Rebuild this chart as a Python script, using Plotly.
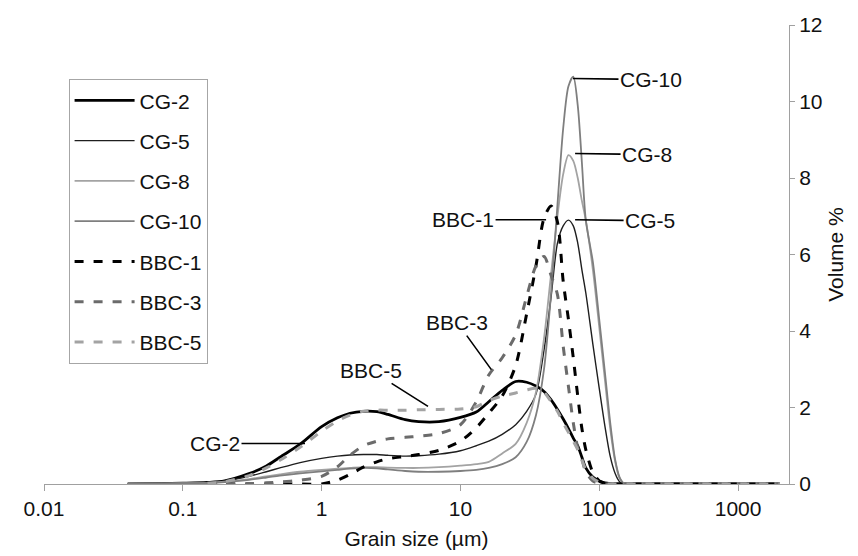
import math
import plotly.graph_objects as go

# Grain size grid (µm)
size_um = [0.04, 0.07, 0.1, 0.15, 0.2, 0.3, 0.4, 0.5, 0.7, 1.0, 1.3, 1.6, 2.0, 2.5, 3.0,
           4.0, 5.0, 7.0, 10, 13, 16, 20, 25, 30, 35, 40, 45, 50, 55, 60, 65, 70, 75,
           80, 90, 100, 110, 120, 130, 140, 150, 200, 500, 1000, 2000]

cg2 = [0.0, 0.01, 0.02, 0.04, 0.08, 0.27, 0.47, 0.70, 1.04, 1.50, 1.73, 1.85, 1.90, 1.89, 1.82,
       1.68, 1.63, 1.63, 1.74, 1.88, 2.15, 2.45, 2.68, 2.66, 2.56, 2.42, 2.2, 1.95, 1.7, 1.45,
       1.2, 1.0, 0.7, 0.42, 0.18, 0.08, 0.03, 0.01, 0, 0, 0, 0, 0, 0, 0]
cg5 = [0.0, 0.01, 0.02, 0.04, 0.08, 0.2, 0.32, 0.42, 0.56, 0.67, 0.73, 0.76, 0.77, 0.77, 0.75,
       0.73, 0.74, 0.78, 0.87, 1.0, 1.12, 1.3, 1.55, 1.9, 2.35, 3.5, 4.9, 6.3, 6.75, 6.9,
       6.75, 6.3, 5.6, 5.0, 3.65, 2.5, 1.5, 0.72, 0.28, 0.06, 0, 0, 0, 0, 0]
cg8 = [0.0, 0.01, 0.02, 0.03, 0.06, 0.13, 0.2, 0.25, 0.32, 0.37, 0.4, 0.42, 0.44, 0.44, 0.43,
       0.42, 0.42, 0.44, 0.48, 0.52, 0.58, 0.8, 1.05, 1.6, 2.4, 3.8, 5.5, 7.0, 8.1, 8.6,
       8.45, 8.0, 7.4, 6.9, 5.6, 4.1, 2.7, 1.45, 0.6, 0.15, 0.02, 0, 0, 0, 0]
cg10 = [0.0, 0.01, 0.02, 0.03, 0.05, 0.11, 0.17, 0.22, 0.28, 0.33, 0.37, 0.4, 0.42, 0.41, 0.38,
        0.34, 0.32, 0.32, 0.34, 0.37, 0.42, 0.52, 0.7, 1.1, 1.8, 3.0, 5.0, 7.3, 9.3, 10.4,
        10.65, 9.9, 8.4, 6.9, 5.8, 4.3, 2.9, 1.6, 0.65, 0.18, 0.02, 0, 0, 0, 0]
bbc1 = [None, None, None, 0.0, 0.0, 0.0, 0.0, 0.0, 0.0, 0.0, 0.1, 0.25, 0.44, 0.58, 0.66,
        0.72, 0.77, 0.88, 1.12, 1.47, 1.85, 2.3, 3.1, 4.45, 5.7, 6.95, 7.27, 6.85, 5.3, 4.3,
        3.3, 2.3, 1.45, 0.9, 0.3, 0.08, 0.02, 0, 0, 0, 0, 0, 0, 0, 0]
bbc3 = [None, None, None, 0.0, 0.0, 0.01, 0.03, 0.05, 0.1, 0.2, 0.45, 0.75, 1.0, 1.12, 1.18,
        1.22, 1.25, 1.32, 1.55, 2.15, 2.85, 3.3, 3.9, 4.9, 5.7, 5.95, 5.45, 4.95, 3.6, 2.55,
        1.6, 0.95, 0.65, 0.32, 0.08, 0.02, 0, 0, 0, 0, 0, 0, 0, 0, 0]
bbc5 = [None, None, None, 0.02, 0.06, 0.22, 0.42, 0.62, 0.96, 1.38, 1.65, 1.8, 1.9, 1.93, 1.93,
        1.93, 1.94, 1.95, 1.96, 2.02, 2.18, 2.3, 2.38, 2.46, 2.5, 2.4, 2.15, 1.9, 1.6, 1.35,
        1.12, 0.9, 0.62, 0.38, 0.15, 0.05, 0.01, 0, 0, 0, 0, 0, 0, 0, 0]

series_names = ["CG-2", "CG-5", "CG-8", "CG-10", "BBC-1", "BBC-3", "BBC-5"]
series_values = [cg2, cg5, cg8, cg10, bbc1, bbc3, bbc5]
series_colors = ["#000000", "#1e1e1e", "#a3a3a3", "#7f7f7f", "#000000", "#6b6b6b", "#a3a3a3"]
series_widths = [2.8, 1.4, 1.8, 1.8, 3.0, 3.0, 3.0]
series_dash = ["solid", "solid", "solid", "solid", "9px,10px", "9px,10px", "9px,10px"]

x_ticks = [0.01, 0.1, 1, 10, 100, 1000]
x_tick_labels = ["0.01", "0.1", "1", "10", "100", "1000"]
y_ticks = [0, 2, 4, 6, 8, 10, 12]

# label, x (µm), y (%), text offset ax, ay (px)
callouts = [("CG-10", 64.7, 10.6, 78, 1),
            ("CG-8", 67.0, 8.64, 72, 1),
            ("CG-5", 67.0, 6.91, 75, 1),
            ("BBC-1", 41.4, 6.91, -83, 0),
            ("BBC-3", 16.7, 2.99, -34, -47),
            ("BBC-5", 5.84, 2.03, -57, -36),
            ("CG-2", 0.759, 1.06, -90, 0)]

FONT = "Liberation Sans, Arial, sans-serif"

fig = go.Figure()
for name, vals, col, w, d in zip(series_names, series_values, series_colors, series_widths, series_dash):
    fig.add_trace(go.Scatter(
        x=size_um, y=vals, name=name, mode="lines", legendgroup=name,
        line=dict(color=col, width=w, dash=d, shape="spline", smoothing=0.8),
        connectgaps=False,
    ))

for label, xu, yv, ax, ay in callouts:
    fig.add_annotation(x=math.log10(xu), y=yv, xref="x", yref="y", text=label,
                       showarrow=True, arrowhead=0, arrowwidth=1.6, arrowcolor="#000000",
                       ax=ax, ay=ay, standoff=0,
                       font=dict(family=FONT, size=21, color="#111111"))

fig.update_layout(
    template="none",
    width=858, height=556,
    margin=dict(l=36, r=77, t=17, b=80, autoexpand=False),
    paper_bgcolor="white", plot_bgcolor="white",
    font=dict(family=FONT, size=21, color="#111111"),
    showlegend=True,
    legend=dict(x=0.033, y=0.882, xanchor="left", yanchor="top",
                bordercolor="#a6a6a6", borderwidth=1, bgcolor="white",
                font=dict(family=FONT, size=21, color="#111111"),
                tracegroupgap=10, itemwidth=60, traceorder="grouped"),
    xaxis=dict(type="log", range=[-2, 3.367], tickvals=x_ticks, ticktext=x_tick_labels,
               automargin=False,
               showgrid=False, zeroline=False, showline=True, linecolor="#a0a0a0", linewidth=1,
               ticks="outside", ticklen=6, tickcolor="#a0a0a0",
               tickfont=dict(family=FONT, size=21, color="#111111"),
               title=dict(text="Grain size (µm)", standoff=12,
                          font=dict(family=FONT, size=21, color="#111111"))),
    yaxis=dict(side="right", range=[0, 12], tickvals=y_ticks,
               automargin=False,
               showgrid=False, zeroline=False, showline=True, linecolor="#a0a0a0", linewidth=1,
               ticks="outside", ticklen=5, tickcolor="#a0a0a0",
               tickfont=dict(family=FONT, size=21, color="#111111"),
               title=dict(text="Volume %", standoff=6,
                          font=dict(family=FONT, size=21, color="#111111"))),
)

fig.write_html("out.html")
